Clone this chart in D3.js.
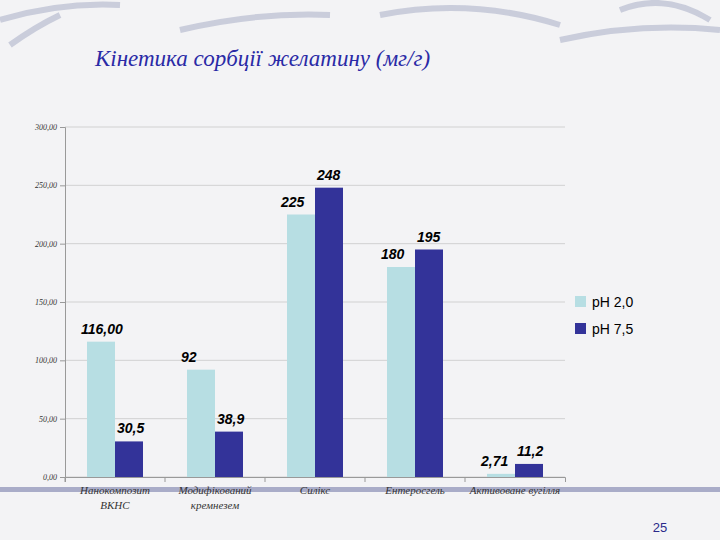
<!DOCTYPE html>
<html><head><meta charset="utf-8">
<script src="https://cdn.jsdelivr.net/npm/d3@7"></script>
<style>body{margin:0;background:#f4f4f6}</style></head>
<body><div id="chart"></div>
<script>
const categories = [["Нанокомпозит", "ВКНС"], ["Модифікований", "кремнезем"], ["Силікс"], ["Ентеросгель"], ["Активоване вугілля"]];
const ph2 = [116, 92, 225, 180, 2.71];
const ph75 = [30.5, 38.9, 248, 195, 11.2];
const ph2Labels = ["116,00", "92", "225", "180", "2,71"];
const ph75Labels = ["30,5", "38,9", "248", "195", "11,2"];
const yTicks = [0, 50, 100, 150, 200, 250, 300];
const seriesNames = ["pH 2,0", "pH 7,5"];
const colors = ["#b7dee3", "#333399"];

const svg = d3.select("#chart").append("svg").attr("width", 720).attr("height", 540);
svg.append("rect").attr("width", 720).attr("height", 540).attr("fill", "#f3f3f5");

// decorative swirls
const deco = [[0, 20, 120, 5], [180, 30, 330, 15], [380, 15, 560, 25], [560, 40, 720, 30], [10, 45, 60, 15], [620, 10, 710, 20]];
deco.forEach(d => svg.append("path")
  .attr("d", `M${d[0]},${d[1]} Q${(d[0] + d[2]) / 2},${d[1] - 18} ${d[2]},${d[3]}`)
  .attr("fill", "none").attr("stroke", "#b8bcd0").attr("stroke-width", 6).attr("opacity", 0.7));
svg.append("rect").attr("x", 0).attr("y", 487).attr("width", 720).attr("height", 5).attr("fill", "#a9acc8");

svg.append("text").attr("x", 95).attr("y", 66)
  .style("font-family", "Liberation Serif").style("font-style", "italic").style("font-size", "23px")
  .attr("fill", "#2a2aa6").text("Кінетика сорбції  желатину (мг/г)");

const margin = { left: 65, top: 127 }, width = 500, height = 350;
const g = svg.append("g").attr("transform", `translate(${margin.left},${margin.top})`);
const x = d3.scaleBand().domain(d3.range(categories.length)).range([0, width]);
const y = d3.scaleLinear().domain([0, 300]).range([height, 0]);

g.selectAll(".grid").data(yTicks).enter().append("line")
  .attr("x1", 0).attr("x2", width).attr("y1", d => y(d)).attr("y2", d => y(d))
  .attr("stroke", "#c8c8c8").attr("stroke-width", 0.8);

const yAxis = g.append("g").call(d3.axisLeft(y).tickValues(yTicks).tickSize(5).tickFormat(d => d3.format(".2f")(d).replace(".", ",")));
yAxis.selectAll("text").style("font-family", "Liberation Serif").style("font-style", "italic").style("font-size", "8px").attr("fill", "#333");
yAxis.selectAll("line,path").attr("stroke", "#999");

const xAxis = g.append("g").attr("transform", `translate(0,${height})`)
  .call(d3.axisBottom(x).tickSize(5).tickFormat(""));
xAxis.selectAll("line,path").attr("stroke", "#999");
xAxis.selectAll(".tick").attr("transform", (d, i) => `translate(${x(i)},0)`);

const bw = 28;
[ph2, ph75].forEach((vals, s) => {
  g.selectAll(".b" + s).data(vals).enter().append("rect")
    .attr("x", (d, i) => x(i) + x.bandwidth() / 2 - bw + s * bw)
    .attr("y", d => y(d)).attr("width", bw).attr("height", d => height - y(d))
    .attr("fill", colors[s]);
  const labs = s === 0 ? ph2Labels : ph75Labels;
  g.selectAll(".l" + s).data(vals).enter().append("text")
    .attr("x", (d, i) => x(i) + x.bandwidth() / 2 - bw + s * bw + (s === 0 ? -6 : 0))
    .attr("y", d => y(d) - 8).attr("text-anchor", s === 0 ? "start" : "start")
    .attr("dx", s === 0 ? 0 : 2)
    .style("font-family", "Liberation Sans").style("font-style", "italic").style("font-weight", "bold").style("font-size", "14px")
    .text((d, i) => labs[i]);
});

categories.forEach((lines, i) => {
  lines.forEach((t, k) => g.append("text")
    .attr("x", x(i) + x.bandwidth() / 2).attr("y", height + 17 + k * 15).attr("text-anchor", "middle")
    .style("font-family", "Liberation Serif").style("font-style", "italic").style("font-size", "11px").attr("fill", "#333")
    .text(t));
});

seriesNames.forEach((n, i) => {
  svg.append("rect").attr("x", 575).attr("y", 296 + i * 27).attr("width", 11).attr("height", 11).attr("fill", colors[i]);
  svg.append("text").attr("x", 592).attr("y", 307 + i * 27)
    .style("font-family", "Liberation Sans").style("font-size", "14px").text(n);
});

svg.append("text").attr("x", 660).attr("y", 532).attr("text-anchor", "middle")
  .style("font-family", "Liberation Sans").style("font-size", "13px").attr("fill", "#2a2a8a").text("25");
</script></body></html>
